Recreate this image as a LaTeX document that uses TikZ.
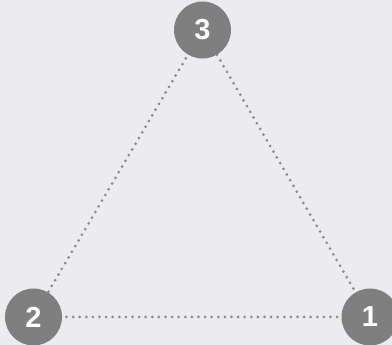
\documentclass[tikz,border=0pt]{standalone}
\usepackage{fontspec}
\setmainfont{Liberation Sans}
\definecolor{bg}{HTML}{ECEBF0}
\definecolor{nodegray}{HTML}{7F7F7F}
\definecolor{dotgray}{HTML}{8A8A8A}
\begin{document}
\begin{tikzpicture}[x=1pt,y=-1pt,
  num/.style={circle,fill=nodegray,minimum size=57pt,inner sep=0pt,text=white,font=\bfseries\fontsize{29}{29}\selectfont},
  link/.style={draw=dotgray,line width=3pt,line cap=round,dash pattern=on 0pt off 6.6pt}]
\fill[bg] (0,0) rectangle (392,345);
\useasboundingbox (0,0) rectangle (392,345);
\coordinate (c3) at (202.5,30);
\coordinate (c2) at (33.5,317);
\coordinate (c1) at (370,317);
\draw[link] (c3) -- (c2);
\draw[link] (c2) -- (c1);
\draw[link] (c1) -- (c3);
\node[num] (n3) at (c3) {3};
\node[num] (n2) at (c2) {2};
\node[num] (n1) at (c1) {1};
\end{tikzpicture}
\end{document}
